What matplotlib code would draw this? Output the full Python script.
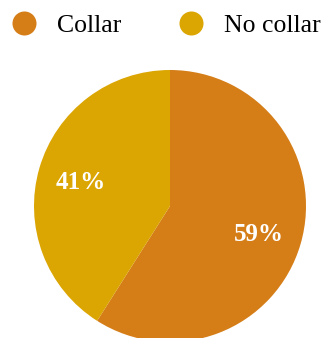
import matplotlib.pyplot as plt
from matplotlib.lines import Line2D

labels = ['Collar', 'No collar']
shares = [59, 41]
colors = ['#D57D17', '#DBA502']

plt.rcParams['font.family'] = 'Liberation Serif'

fig = plt.figure(figsize=(3.25, 3.38), dpi=100)

# pie centre sits at (170, 206) px with radius 136 px; bottom runs off the canvas
r_px = 136.0
cx, cy = 170.0, 206.0
W, H = 325.0, 338.0
ax = fig.add_axes([0, 0, 1, 1])
wedges, texts, pcts = ax.pie(
    shares, colors=colors, startangle=90, counterclock=False,
    autopct=lambda p: f'{round(p)}%', pctdistance=0.68,
    wedgeprops=dict(linewidth=0),
    textprops=dict(color='white', fontsize=18, fontweight='bold'))
for t in pcts:
    t.set_va('center_baseline')
ax.set_xlim(-cx / r_px, (W - cx) / r_px)
ax.set_ylim(-(H - cy) / r_px, cy / r_px)
ax.set_aspect('auto')
ax.axis('off')

handles = [Line2D([], [], linestyle='none', marker='o', markersize=17.3,
                  markerfacecolor=c, markeredgewidth=0) for c in colors]
fig.legend(handles, labels, loc='center left',
           bbox_to_anchor=(11.2 / W, 1 - 26 / H), ncol=2, frameon=False,
           fontsize=18.5, handlelength=1.0, handletextpad=0.78,
           columnspacing=2.2, borderpad=0, borderaxespad=0)

fig.savefig('out.png', dpi=100)
